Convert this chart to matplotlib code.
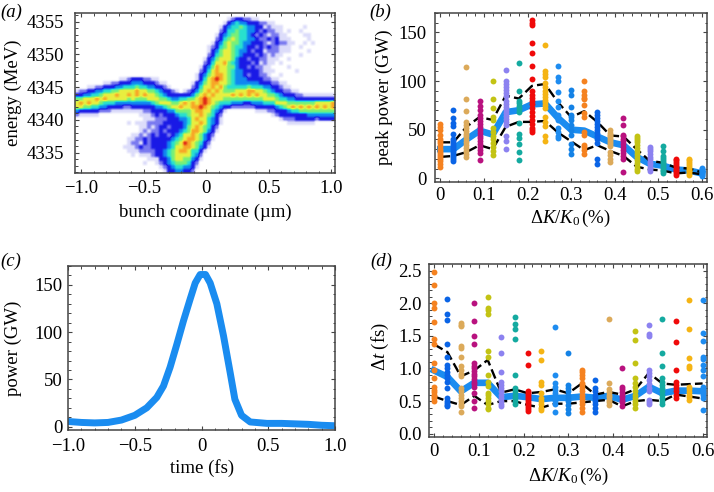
import matplotlib
matplotlib.use('Agg')
import matplotlib.pyplot as plt
import numpy as np
from matplotlib.colors import LinearSegmentedColormap
from matplotlib.ticker import MultipleLocator

plt.rcParams['font.family'] = ['Liberation Serif', 'DejaVu Serif']
plt.rcParams['mathtext.fontset'] = 'custom'
plt.rcParams['mathtext.rm'] = 'Liberation Serif'
plt.rcParams['mathtext.it'] = 'Liberation Serif:italic'

W, H = 714, 492
FS = 13.5

# panel a: density, level 0-9, top row first
density = [
    "00000 00000 00000 00000 00000 00000 00000 00000 00000 00000 00000 00000 00000",
    "00000 00000 00000 00000 00000 00000 00000 00012 33221 10000 00000 00000 00000",
    "00000 00000 00000 00000 00000 00000 00000 00134 54433 32211 00000 00000 00000",
    "00000 00000 00000 00000 00000 00000 00000 01345 56544 33121 11000 00100 00000",
    "00000 00000 00000 00000 00000 00000 00000 02355 65544 32322 11010 01000 00000",
    "00000 00000 00000 00000 00000 00000 00000 13456 65543 23212 21100 00110 00000",
    "00000 00000 00000 00000 00000 00000 00000 23567 65544 32232 31110 00010 00000",
    "00000 00000 00000 00000 00000 00000 00001 34676 65443 33212 32211 00101 00000",
    "00000 00000 00000 00000 00000 00000 00012 35676 55433 23232 21110 01000 00000",
    "00000 00000 00000 00000 00000 00000 00013 46776 54432 33122 21110 00010 00000",
    "00000 00000 00000 00000 00000 00000 00023 56776 54333 23212 11000 01000 00000",
    "00000 00000 00000 00000 00000 00000 00134 67776 43323 32211 10010 00000 00000",
    "00000 00000 00000 00000 00000 00000 00235 77865 43332 31211 01000 00000 00000",
    "00000 00000 00000 00000 00000 00000 01346 87766 43323 22110 00010 00000 00000",
    "00000 00000 00000 00000 00000 00000 02357 87765 44333 32111 00000 10000 00000",
    "00000 00000 00000 00000 00000 00000 13467 88765 44323 32210 01000 00000 00000",
    "00000 00000 01123 33221 10000 00000 13578 98765 44433 33221 10000 00000 00000",
    "00000 00112 23334 44333 21100 00001 34678 87765 44444 43332 21100 00000 00000",
    "00011 22333 44555 65544 33210 00002 35778 78655 55565 55443 32110 00000 00000",
    "12233 44556 67777 87766 54332 10123 46787 87666 77788 77654 33221 10000 00000",
    "33445 56777 87787 87877 65433 33334 67878 77778 78787 87766 54333 22111 11111",
    "66777 87877 77767 66677 76654 45566 78987 77666 66666 66777 65544 33333 33333",
    "78787 76555 44444 44445 67776 67878 78987 65554 44334 44555 77766 66666 77778",
    "77665 54433 33223 33333 44567 78778 89876 54332 22222 33333 45678 78787 87878",
    "43333 32221 11111 11223 33344 66667 88775 43100 00000 11122 33345 56666 66666",
    "21111 10000 00000 01112 32333 45567 78765 32000 00000 00001 23333 33344 44444",
    "00000 00000 00000 00111 22233 34457 87754 31000 00000 00000 01222 33333 23333",
    "00000 00000 00010 11122 22333 33457 78754 31000 00000 00000 00011 11111 00000",
    "00000 00000 00000 01121 23323 33467 87653 20000 00000 00000 00000 00000 00000",
    "00000 00000 00000 01212 23233 34568 87643 10000 00000 00000 00000 00000 00000",
    "00000 00000 00001 12123 23323 45778 76432 00000 00000 00000 00000 00000 00000",
    "00000 00000 00011 22323 33334 56788 76431 00000 00000 00000 00000 00000 00000",
    "00000 00000 00012 21323 33345 67987 65320 00000 00000 00000 00000 00000 00000",
    "00000 00000 00111 23223 33345 77887 64310 00000 00000 00000 00000 00000 00000",
    "00000 00000 00011 12222 33456 78875 53100 00000 00000 00000 00000 00000 00000",
    "00000 00000 00001 01112 33456 77775 42000 00000 00000 00000 00000 00000 00000",
    "00000 00000 00000 00011 13346 77664 31000 00000 00000 00000 00000 00000 00000",
    "00000 00000 00000 00100 12345 66653 20000 00000 00000 00000 00000 00000 00000",
    "00000 00000 00000 00000 01234 55443 10000 00000 00000 00000 00000 00000 00000",
    "00000 00000 00000 00000 00133 44332 00000 00000 00000 00000 00000 00000 00000",
]
density_colors = ['#ffffff', '#dcdcfa', '#7878f0', '#1a1ae6', '#1088f0',
                  '#28e0d0', '#78f078', '#e8f040', '#f8a828', '#e02818']

# panel b / d: shared scan positions and dot colours
dK = [0, .03, .06, .09, .12, .15, .18, .21, .24, .27, .30, .33, .36, .39, .42, .45, .48, .51, .54, .57, .60]
dot_colors = ['#f58220', '#0a64e6', '#dcaa5a', '#b9127f', '#c3c314', '#8c82f0',
              '#14aaa0', '#f00a0a', '#f5b414', '#1e8cf0', '#1482e6']

power_shots = [
    [12, 15, 18, 20, 22, 24, 26, 28, 30, 33, 36, 38, 40, 45, 50, 53, 56],
    [18, 20, 22, 24, 26, 28, 30, 32, 34, 36, 38, 40, 46, 54, 57, 62, 70],
    [22, 25, 28, 31, 34, 37, 40, 43, 46, 49, 52, 55, 58, 69, 82, 114],
    [19, 26, 29, 32, 35, 38, 41, 44, 47, 50, 53, 56, 59, 62, 65, 70, 74, 80],
    [24, 28, 32, 36, 40, 43, 48, 52, 60, 63, 72, 82, 100],
    [30, 38, 43, 55, 58, 61, 64, 67, 70, 73, 76, 80, 85, 88, 91, 94, 97, 100, 111],
    [19, 27, 35, 41, 46, 57, 68, 71, 74, 77, 80, 90, 119],
    [48, 50, 52, 56, 60, 64, 68, 72, 76, 80, 83, 86, 90, 102, 116, 129, 139, 158, 160, 163],
    [38, 44, 54, 58, 63, 72, 75, 78, 81, 84, 87, 90, 94, 98, 104, 107, 110, 137],
    [41, 43, 48, 52, 60, 65, 73, 80, 89, 100, 104, 116],
    [25, 30, 35, 45, 50, 55, 60, 63, 65, 73, 86, 91],
    [25, 29, 32, 34, 45, 48, 63, 67, 75, 82, 83, 86, 90, 100],
    [15, 20, 36, 40, 44, 47, 50, 53, 56, 59, 62, 65, 68],
    [17, 20, 24, 27, 33, 35, 37, 39, 41, 43, 45, 47, 50],
    [6, 20, 23, 26, 29, 32, 35, 38, 40, 43, 45, 55, 62],
    [7, 10, 13, 16, 19, 22, 25, 28, 31, 34, 37, 39, 41, 43],
    [8, 10, 12, 15, 17, 20, 22, 25, 28, 30, 32],
    [5, 7, 9, 11, 13, 15, 17, 19, 21, 23, 28, 33],
    [3, 5, 7, 9, 11, 13, 15, 17, 19, 20],
    [3, 5, 7, 9, 11, 13, 15, 17, 19, 20],
    [2, 3, 4, 5, 6, 7, 8, 9, 10, 11],
]
power_mean = [30, 30, 40, 49, 45, 68, 70, 76, 77, 62, 50, 49, 43, 37, 34, 22, 15, 13, 9, 8, 5]
power_upper = [37, 37, 53, 63, 60, 85, 82, 95, 97, 78, 63, 69, 58, 44, 43, 30, 18, 16, 11, 10, 6]
power_lower = [22, 23, 27, 34, 30, 53, 58, 58, 59, 47, 38, 29, 34, 28, 23, 12, 9, 8, 5, 6, 4]

width_shots = [
    [.5, .55, .58, .6, .64, .67, .72, .85, .97, 1.09, 1.37, 1.45, 1.71, 1.92, 2.0, 2.28, 2.48],
    [.42, .44, .47, .5, .55, .7, .8, .85, .9, .95, 1.0, 1.05, 1.17, 1.37, 1.74, 1.84, 2.07],
    [.34, .42, .45, .5, .55, .6, .65, .7, .88, .92, .97, 1.03, 1.18, 1.32, 1.35, 1.65, 1.67, 1.7],
    [.39, .5, .63, .72, .76, .8, .84, .88, .92, .96, 1.0, 1.03, 1.08, 1.37, 1.5, 1.73, 2.0],
    [.38, .4, .45, .5, .55, .6, .62, .73, .8, .9, 1.18, 1.27, 1.84, 1.9, 1.93, 2.1],
    [.42, .45, .5, .55, .6, .65, .7, .75, .8, .95, 1.24, 1.48],
    [.45, .5, .55, .6, .65, .7, .9, 1.45, 1.6, 1.68, 1.79],
    [.35, .38, .41, .44, .47, .5, .53, .56, .59, .62, .65, 1.06, 1.24],
    [.36, .4, .45, .5, .55, .62, .75, .8, 1.13, 1.27],
    [.34, .45, .5, .57, .62, .67, .72, .77, .9, 1.63],
    [.32, .38, .44, .5, .55, .6, .65, .7, .75, 1.24],
    [.34, .4, .45, .5, .55, .6, .65, .7, .74, .78, .85, .9, .94, .98],
    [.34, .4, .45, .5, .55, .6, .65, .7, .83],
    [.44, .48, .52, .56, .6, .64, .68, .78, 1.76],
    [.42, .48, .52, .56, .6, .64, .68, .72, 1.01],
    [.4, .45, .5, .55, .6, .66, .72, .78, .85, 1.09, 1.43, 1.58],
    [.45, .48, .52, .65, .7, .76, .82, .88, .93, .98, 1.5, 1.53, 1.66],
    [.45, .5, .55, .6, .65, .7, .75, .8, .86, 1.04, 1.24, 1.76],
    [.55, .6, .65, .7, .75, .8, .98, 1.4, 1.73],
    [.52, .56, .6, .64, .68, .72, 1.0, 1.03, 1.16, 1.6, 2.05],
    [.36, .55, .6, .64, .68, .72, .88, .98, 1.06, 1.15, 1.18, 1.42, 1.55, 2.05],
]
width_mean = [.97, .87, .65, .78, .78, .56, .58, .56, .53, .55, .55, .57, .55, .58, .52, .58, .72, .62, .66, .66, .65]
width_upper = [1.37, 1.25, .88, .97, 1.13, .63, .68, .62, .64, .68, .62, .77, .6, .64, .6, .68, .93, .77, .75, .76, .77]
width_lower = [.57, .5, .44, .58, .44, .5, .5, .44, .4, .46, .46, .48, .5, .52, .42, .5, .52, .5, .6, .57, .54]

# panel c
time_fs = [-1, -.9, -.8, -.7, -.6, -.5, -.41, -.335, -.285, -.235, -.185, -.135, -.085, -.047, -.01, .03, .065, .115, .165, .215, .25, .3, .365, .49, .6, .7, .8, .9, 1]
power_gw = [5.5, 4.5, 4, 4.5, 7, 12, 20, 31, 43, 63, 87, 112, 135, 152, 161, 161, 152, 130, 96, 57, 29, 12, 5, 3.5, 3.5, 3, 2.5, 1.5, 1]

bunch_ticks = [-1, -.5, 0, .5, 1]
bunch_labels = ['\u22121.0', '\u22120.5', '0', '0.5', '1.0']
energy_ticks = [4335, 4340, 4345, 4350, 4355]
dk_ticks = [0, .1, .2, .3, .4, .5, .6]
dk_labels = ['0', '0.1', '0.2', '0.3', '0.4', '0.5', '0.6']
power_ticks = [0, 50, 100, 150]
width_ticks = [0, .5, 1, 1.5, 2, 2.5]
width_labels = ['0.0', '0.5', '1.0', '1.5', '2.0', '2.5']


def panel(left, top, right, bottom, xlim, ylim):
    ax = fig.add_axes([left / W, 1 - bottom / H, (right - left) / W, (bottom - top) / H])
    ax.set_xlim(xlim)
    ax.set_ylim(ylim)
    for s in ax.spines.values():
        s.set_linewidth(1.1)
        s.set_color('#444444')
    ax.tick_params(which='both', direction='in', top=True, right=True, color='#444444')
    ax.tick_params(which='major', length=3.2, width=.8, labelsize=FS)
    ax.tick_params(which='minor', length=1.8, width=.7)
    return ax


def put_labels(ax, xlab, xpos, ylab, ypos):
    # label centres given in figure pixels
    fig.text(xpos[0] / W, 1 - xpos[1] / H, xlab, ha='center', va='center', fontsize=FS)
    fig.text(ypos[0] / W, 1 - ypos[1] / H, ylab, ha='center', va='center', fontsize=FS, rotation=90)


def scan_panel(ax, shots, mean, upper, lower):
    ax.plot(dK, mean, color='#1a8cf0', lw=4.8, solid_joinstyle='round', zorder=2)
    ax.plot(dK, upper, color='k', lw=1.7, dashes=(4.2, 1.8), zorder=3)
    ax.plot(dK, lower, color='k', lw=1.7, dashes=(4.2, 1.8), zorder=3)
    for i, vals in enumerate(shots):
        ax.scatter([dK[i]] * len(vals), vals, s=18, color=dot_colors[i % 11], lw=0, zorder=4)
    ax.set_xticks(dk_ticks, dk_labels)
    ax.xaxis.set_minor_locator(MultipleLocator(.02))


fig = plt.figure(figsize=(W / 100, H / 100), dpi=100)

# (a)
ax = panel(75, 13, 335, 173, (-1.05, 1.03), (4331.9, 4356.3))
rows = np.array([[int(c) for c in r.replace(' ', '')] for r in density])
cmap = LinearSegmentedColormap.from_list('dens', density_colors)
ax.imshow(rows, cmap=cmap, vmin=0, vmax=9, extent=(-1.05, 1.03, 4331.9, 4356.3),
          aspect='auto', interpolation='hanning', origin='upper')
ax.set_xticks(bunch_ticks, bunch_labels)
ax.set_yticks(energy_ticks, [str(t) for t in energy_ticks])
ax.xaxis.set_minor_locator(MultipleLocator(.1))
ax.yaxis.set_minor_locator(MultipleLocator(1))
ax.tick_params(axis='x', which='major', pad=5)
ax.tick_params(axis='y', which='major', pad=7.5)
put_labels(ax, 'bunch coordinate (\u00b5m)', (205, 212), 'energy (MeV)', (13, 93))

# (b)
ax = panel(435.3, 13, 707, 181.7, (-.0115, .6115), (-3.5, 170))
scan_panel(ax, power_shots, power_mean, power_upper, power_lower)
ax.set_yticks(power_ticks, [str(t) for t in power_ticks])
ax.yaxis.set_minor_locator(MultipleLocator(10))
ax.tick_params(axis='x', which='major', pad=4)
ax.tick_params(axis='y', which='major', pad=6)
put_labels(ax, r'$\mathrm{\Delta}K/K_0\,$(%)', (570, 218), 'peak power (GW)', (384, 97))

# (c)
ax = panel(68, 266, 335, 430, (-1, 1), (-3.5, 170))
ax.plot(time_fs, power_gw, color='#1a8cf0', lw=5, solid_joinstyle='round')
ax.set_xticks(bunch_ticks, bunch_labels)
ax.set_yticks(power_ticks, [str(t) for t in power_ticks])
ax.xaxis.set_minor_locator(MultipleLocator(.1))
ax.yaxis.set_minor_locator(MultipleLocator(10))
ax.tick_params(axis='x', which='major', pad=6)
ax.tick_params(axis='y', which='major', pad=4)
put_labels(ax, 'time (fs)', (201.7, 468), 'power (GW)', (13, 348))

# (d)
ax = panel(428.7, 264, 707, 437, (-.0118, .6098), (-.05, 2.6))
scan_panel(ax, width_shots, width_mean, width_upper, width_lower)
ax.set_yticks(width_ticks, width_labels)
ax.yaxis.set_minor_locator(MultipleLocator(.1))
ax.tick_params(axis='x', which='major', pad=4)
ax.tick_params(axis='y', which='major', pad=5)
put_labels(ax, r'$\mathrm{\Delta}K/K_0\,$(%)', (568, 476), r'$\mathrm{\Delta}t$ (fs)', (380, 346))

for lab, x, y in [('(a)', 11, 12), ('(b)', 380, 12), ('(c)', 11, 261), ('(d)', 381, 261)]:
    fig.text(x / W, 1 - y / H, lab, ha='center', va='center', fontsize=FS, style='italic')

fig.savefig('out.png', dpi=100)
